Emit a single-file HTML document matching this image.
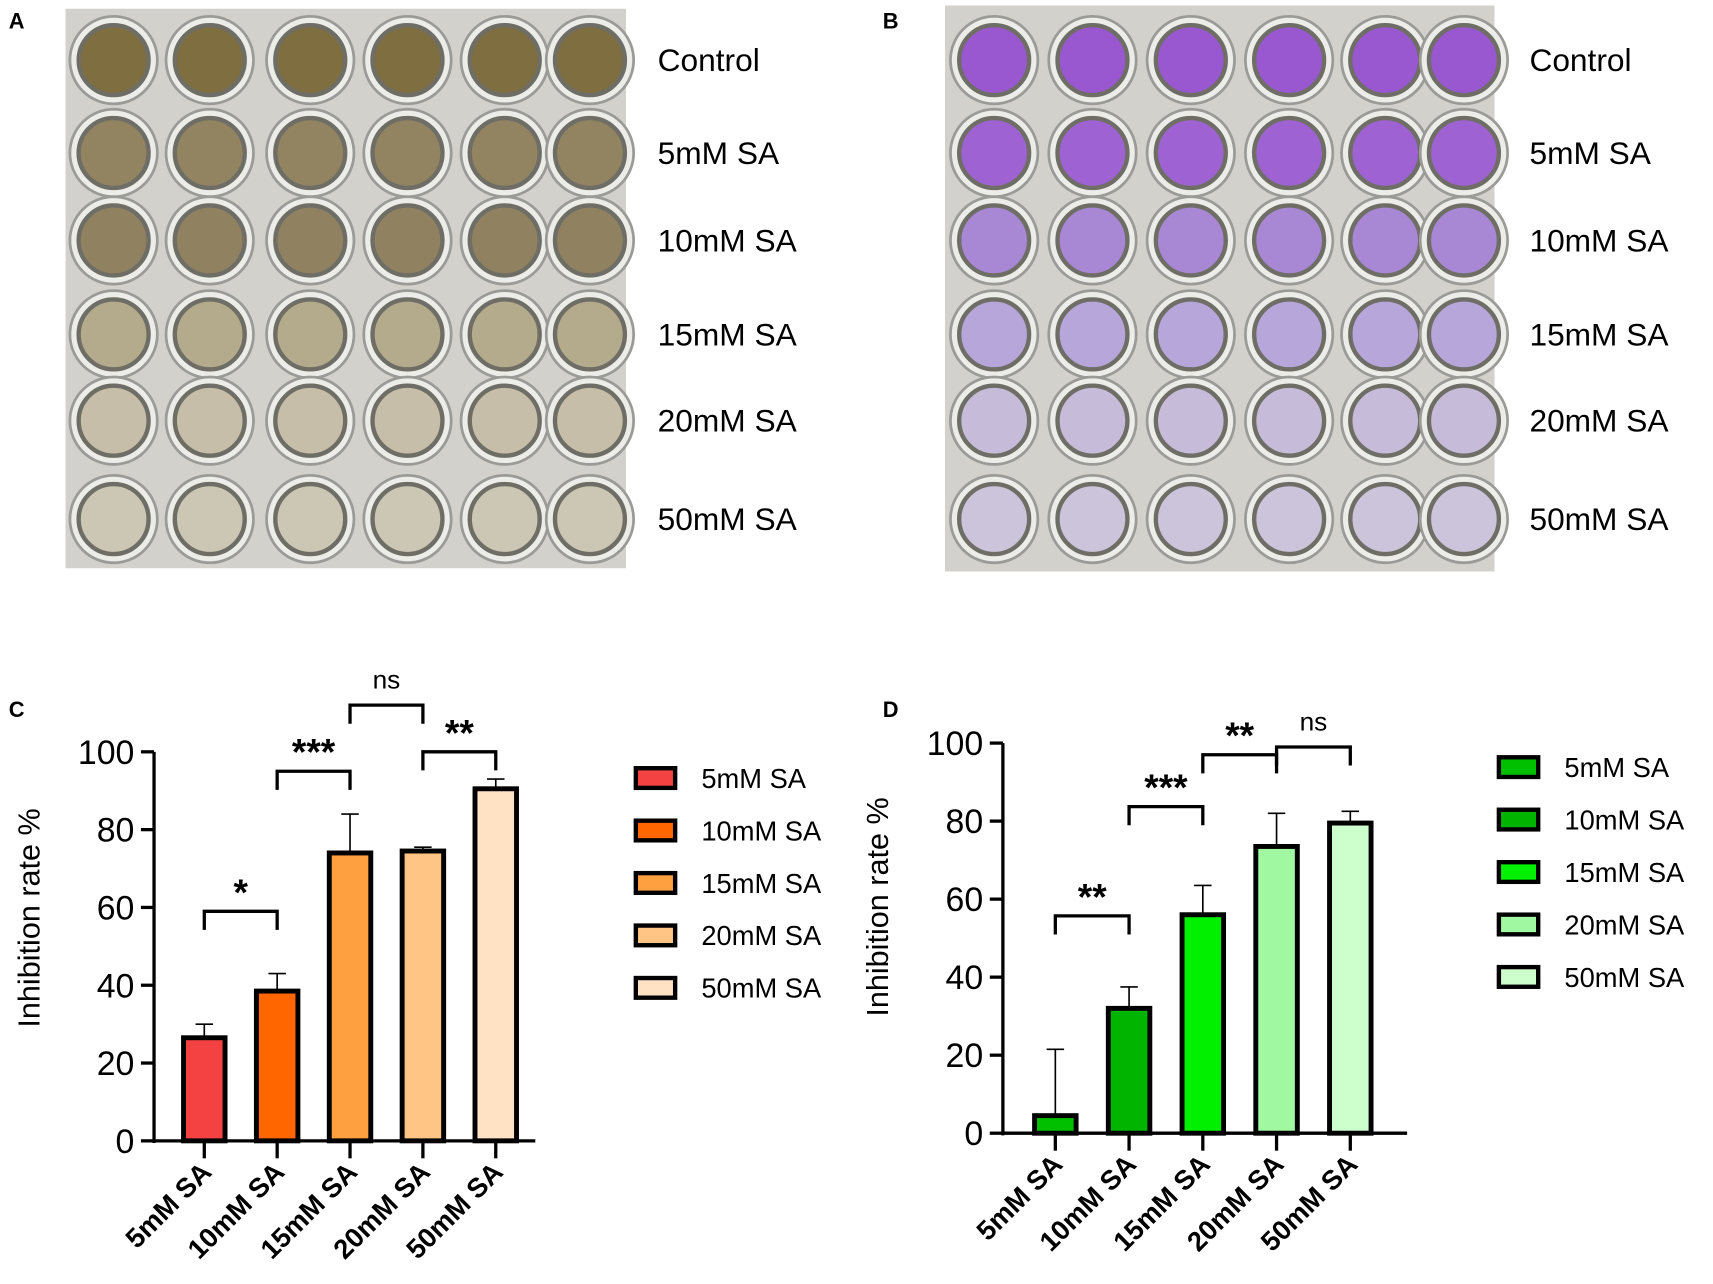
<!DOCTYPE html>
<html><head><meta charset="utf-8"><style>
html,body{margin:0;padding:0;background:#fff}
svg{display:block}
text{font-family:"Liberation Sans",sans-serif}
</style></head><body>
<svg id="fig" width="1713" height="1284" viewBox="0 0 1568 1175" preserveAspectRatio="none" xmlns="http://www.w3.org/2000/svg">
<text x="8" y="26" font-size="20" font-weight="bold">A</text>
<text x="808" y="26" font-size="20" font-weight="bold">B</text>
<text x="8" y="656" font-size="20" font-weight="bold">C</text>
<text x="808" y="656" font-size="20" font-weight="bold">D</text>
<g id="plates"></g>
<g id="chartC"></g>
<g id="chartD"></g>
</svg>
<script>
const NS="http://www.w3.org/2000/svg";
const catsC=["5mM SA","10mM SA","15mM SA","20mM SA","50mM SA"];
const valsC=[26.5,38.5,74,74.5,90.5];
const errC=[30,43,84,75.5,93];
const colC=["#f44242","#ff6600","#ffa040","#ffc585","#ffe2c4"];
const sigC=[[0,1,59,"*"],[1,2,95,"***"],[2,3,112,"ns"],[3,4,100,"**"]];
const catsD=["5mM SA","10mM SA","15mM SA","20mM SA","50mM SA"];
const valsD=[4.5,32,56,73.5,79.5];
const errD=[21.5,37.5,63.5,82,82.5];
const colD=["#00c000","#00b400","#00f000","#a0f8a0","#ccffcc"];
const sigD=[[0,1,55.7,"**"],[1,2,83.7,"***"],[2,3,97,"**"],[3,4,99,"ns"]];
const ticks=[0,20,40,60,80,100];
const plateRows=["Control","5mM SA","10mM SA","15mM SA","20mM SA","50mM SA"];

function el(tag,attrs,parent,txt){const e=document.createElementNS(NS,tag);for(const k in attrs)e.setAttribute(k,attrs[k]);if(txt!==undefined)e.textContent=txt;parent.appendChild(e);return e;}

function chart(g,o){
  const y=v=>o.y0-(o.y0-o.y100)*v/100;
  const x=i=>o.x1+i*o.step;
  let a=el('line',{x1:o.ax,y1:o.y100,x2:o.ax,y2:o.y0+2,stroke:'#000','stroke-width':3},g);
  
  a=el('line',{x1:o.ax-1,y1:o.y0,x2:o.axEnd,y2:o.y0,stroke:'#000','stroke-width':3},g);
  
  ticks.forEach(t=>{
    el('line',{x1:o.ax-12,y1:y(t),x2:o.ax,y2:y(t),stroke:'#000','stroke-width':3},g);
    const tl=el('text',{x:o.ax-18,y:y(t)+11,'font-size':31,'text-anchor':'end'},g,t);
    
  });
  const tt=el('text',{transform:`translate(${o.ax-105},${o.titleY}) rotate(-90)`,'font-size':28,'text-anchor':'middle'},g,o.title);
  
  o.cats.forEach((c,i)=>{
    const cx=x(i),w=38;
    el('line',{x1:cx,y1:o.y0,x2:cx,y2:o.y0+16,stroke:'#000','stroke-width':3},g);
    el('line',{x1:cx,y1:y(o.vals[i]),x2:cx,y2:y(o.err[i]),stroke:'#000','stroke-width':1.5},g);
    el('line',{x1:cx-8,y1:y(o.err[i]),x2:cx+8,y2:y(o.err[i]),stroke:'#000','stroke-width':1.5},g);
    const b=el('rect',{x:cx-w/2,y:y(o.vals[i]),width:w,height:o.y0-y(o.vals[i]),fill:o.cols[i],stroke:'#000','stroke-width':4.5},g);
    
    
    const xl=el('text',{transform:`translate(${cx+8},${o.y0+30}) rotate(-45)`,'font-size':25,'font-weight':'bold','text-anchor':'end'},g,c);
    
    const ly=o.legY+i*48;
    const sw=el('rect',{x:o.legX,y:ly-9,width:36,height:18,fill:o.cols[i],stroke:'#000','stroke-width':4},g);
    
    const lt=el('text',{x:o.legX+60,y:ly+9,'font-size':25},g,c);
    
  });
  o.sig.forEach(s=>{
    const x1=x(s[0]),x2=x(s[1]),yy=y(s[2]);
    const p=el('path',{d:`M${x1} ${yy+17}V${yy}H${x2}V${yy+17}`,fill:'none',stroke:'#000','stroke-width':3},g);
    
    const ns=s[3]==='ns';
    const t=el('text',{x:(x1+x2)/2,y:ns?yy-15:yy-6,'font-size':ns?24:34,'font-weight':ns?'normal':'bold','text-anchor':'middle'},g,s[3]);
    
  });
}
chart(document.getElementById('chartC'),{ax:141,axEnd:490,y0:1044,y100:688,x1:187,step:66.7,cats:catsC,vals:valsC,err:errC,cols:colC,sig:sigC,legX:582,legY:712,title:"Inhibition rate %",titleY:840});
chart(document.getElementById('chartD'),{ax:918,axEnd:1288,y0:1037,y100:680,x1:966,step:67.5,cats:catsD,vals:valsD,err:errD,cols:colD,sig:sigD,legX:1372,legY:702,title:"Inhibition rate  %",titleY:830});

function plate(x0,y0,w,h,cols,rows,fills,lx,name){
  const g=el('g',{},document.getElementById('plates'));
  
  el('rect',{x:x0,y:y0,width:w,height:h,fill:'#d2d1cc'},g);
  rows.forEach((ry,r)=>{
    cols.forEach((cx,c)=>{
      el('circle',{cx:cx,cy:ry,r:40,fill:'#ececE8',stroke:'#9a9a96','stroke-width':2.5},g);
      el('circle',{cx:cx,cy:ry,r:32,fill:fills[r],stroke:'#6e6e66','stroke-width':4},g);
    });
    const t=el('text',{x:lx,y:ry+10,'font-size':29},g,plateRows[r]);
    
  });
}
plate(60,8,513,512,[104,192,284,373,462,540],[55,140,220,306,385,475],["#7e6e40","#928460","#908260","#b4aa8c","#c6bea8","#ccc6b4"],602,"plate-a");
plate(865,5,503,518,[910,1000,1090,1180,1268,1340],[55,140,220,306,385,475],["#9a58d0","#9e62d2","#a888d4","#b6a6da","#c6bcda","#ccc4da"],1400,"plate-b");
</script>
</body></html>
